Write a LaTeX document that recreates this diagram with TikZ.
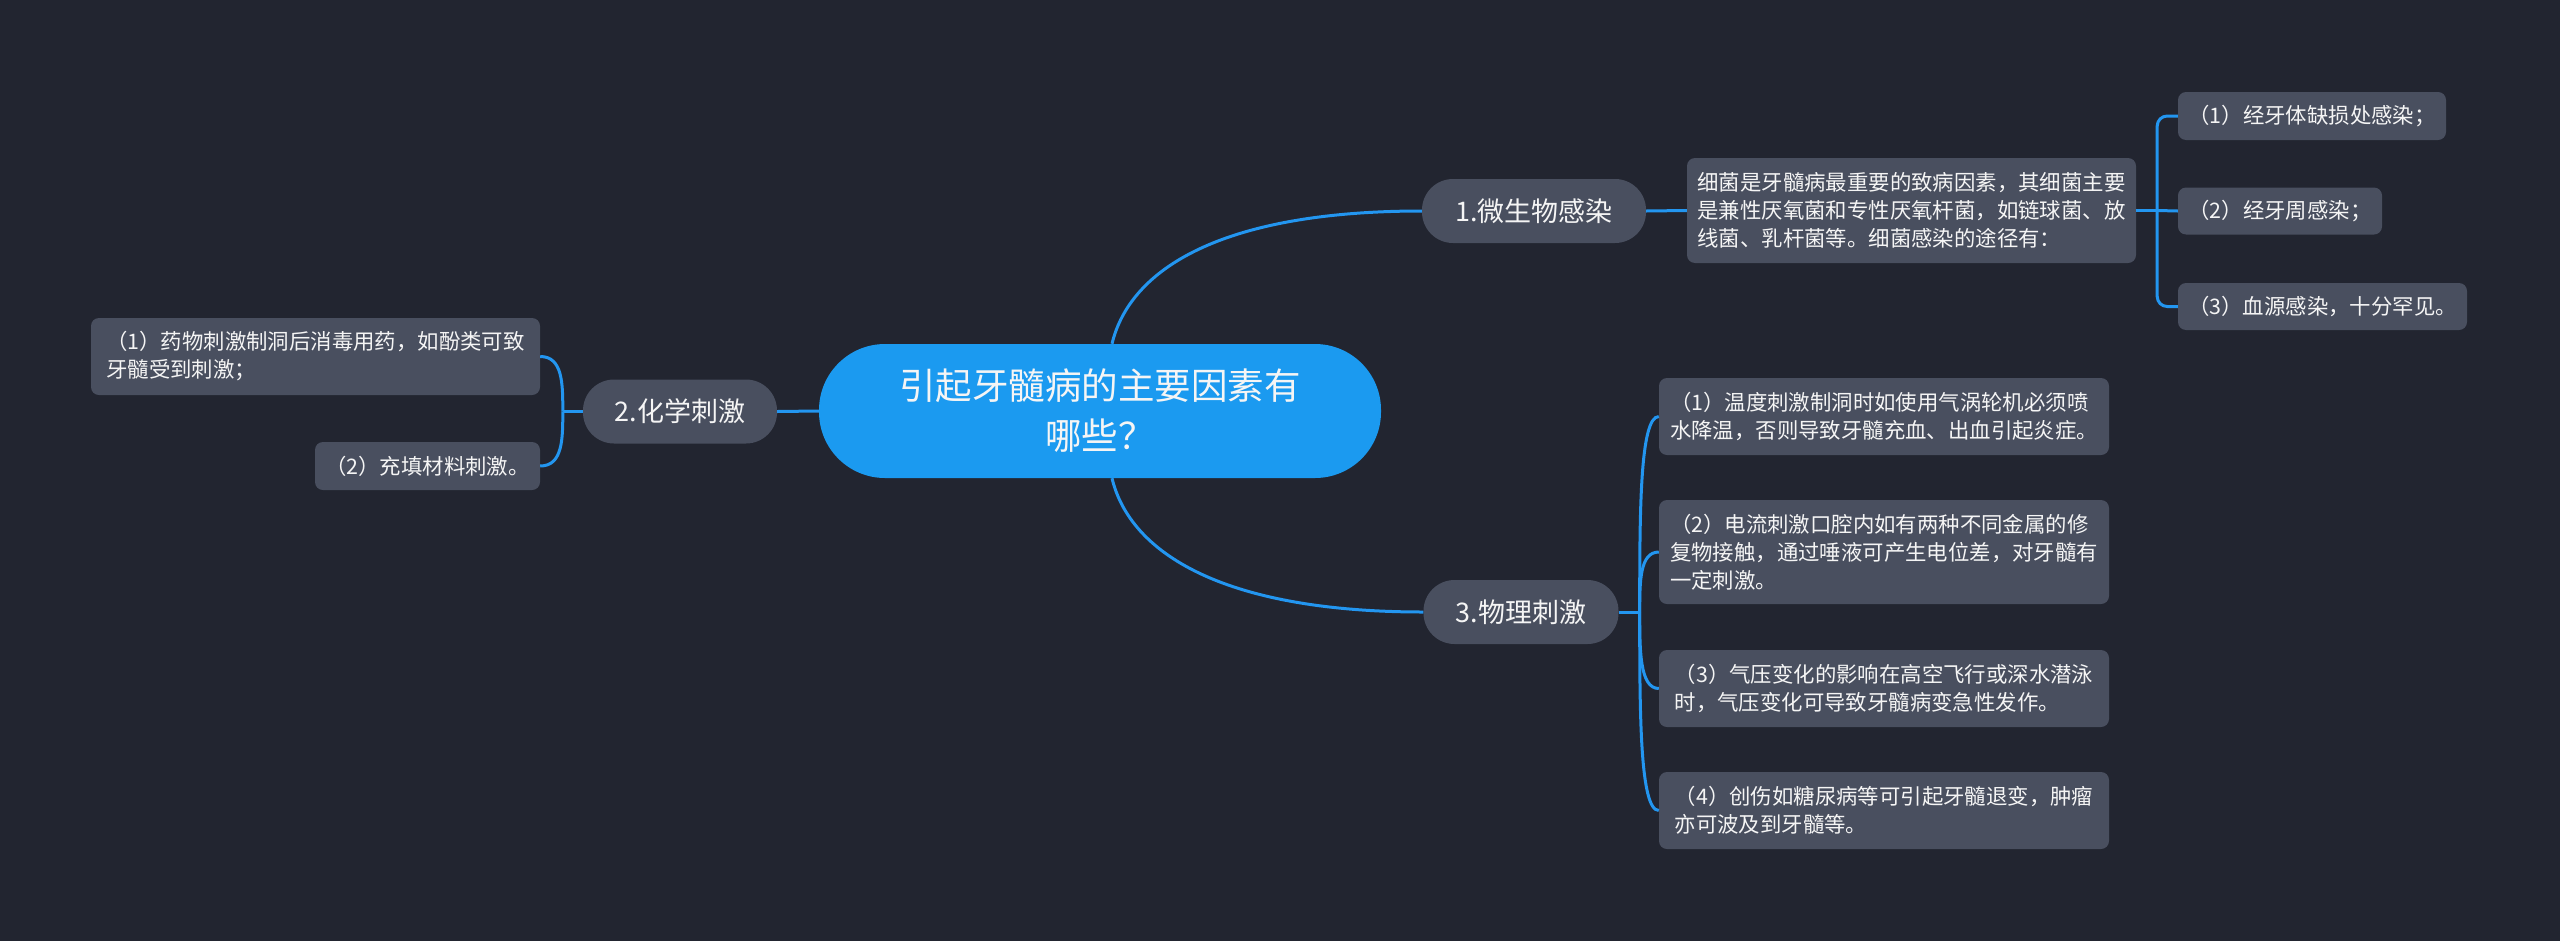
\documentclass[tikz,border=0pt]{standalone}
\usepackage{fontspec}
\newfontfamily\cjk{Noto Sans CJK SC}
\usetikzlibrary{calc}
\definecolor{bg}{RGB}{34,37,48}
\definecolor{nodegray}{RGB}{73,79,95}
\definecolor{rootblue}{RGB}{27,154,240}
\definecolor{linkblue}{RGB}{35,150,240}
\definecolor{txt}{RGB}{245,245,245}
\begin{document}
\begin{tikzpicture}[x=1pt,y=-1pt,
  rootnode/.style={rectangle, rounded corners=66pt, fill=rootblue, text=txt,
    font=\cjk\fontsize{36.5}{50}\selectfont, align=center,
    minimum width=562pt, minimum height=134pt, inner sep=0pt},
  midnode/.style={rectangle, rounded corners=31pt, fill=nodegray, text=txt,
    font=\cjk\fontsize{27}{32}\selectfont, minimum height=64pt, inner sep=0pt},
  leafnode/.style={rectangle, rounded corners=8pt, fill=nodegray, text=txt,
    font=\cjk\fontsize{21.4}{28}\selectfont, align=left, inner sep=0pt},
  link/.style={draw=linkblue, line width=3pt}]
\useasboundingbox (0,0) rectangle (2560,940);
\fill[bg] (-10,-10) rectangle (2570,950);

% nodes
\node[rootnode] (root) at (1100,411) {引起牙髓病的主要因素有\\哪些？};
\node[midnode, minimum width=224pt] (n1) at (1534,211) {1.微生物感染};
\node[midnode, minimum width=194pt] (n2) at (680,411.5) {2.化学刺激};
\node[midnode, minimum width=195pt] (n3) at (1521,612) {3.物理刺激};

\node[leafnode, minimum width=449pt, minimum height=105pt] (l1) at (1911.5,210.5)
  {细菌是牙髓病最重要的致病因素，其细菌主要\\是兼性厌氧菌和专性厌氧杆菌，如链球菌、放\\线菌、乳杆菌等。细菌感染的途径有：};
\node[leafnode, minimum width=268pt, minimum height=48pt] (s1) at (2312,116) {（1）经牙体缺损处感染；};
\node[leafnode, minimum width=204pt, minimum height=47pt] (s2) at (2280,211) {（2）经牙周感染；};
\node[leafnode, minimum width=289pt, minimum height=47pt] (s3) at (2322.5,306.5) {（3）血源感染，十分罕见。};

\node[leafnode, minimum width=449pt, minimum height=77pt] (c1) at (315.5,356.5)
  {（1）药物刺激制洞后消毒用药，如酚类可致\\牙髓受到刺激；};
\node[leafnode, minimum width=225pt, minimum height=48pt] (c2) at (427.5,466) {（2）充填材料刺激。};

\node[leafnode, minimum width=450pt, minimum height=77pt] (p1) at (1884,416.5)
  {（1）温度刺激制洞时如使用气涡轮机必须喷\\水降温，否则导致牙髓充血、出血引起炎症。};
\node[leafnode, minimum width=450pt, minimum height=104pt] (p2) at (1884,552)
  {（2）电流刺激口腔内如有两种不同金属的修\\复物接触，通过唾液可产生电位差，对牙髓有\\一定刺激。};
\node[leafnode, minimum width=450pt, minimum height=77pt] (p3) at (1884,688.5)
  {（3）气压变化的影响在高空飞行或深水潜泳\\时，气压变化可导致牙髓病变急性发作。};
\node[leafnode, minimum width=450pt, minimum height=77pt] (p4) at (1884,810.5)
  {（4）创伤如糖尿病等可引起牙髓退变，肿瘤\\亦可波及到牙髓等。};

% root links
\draw[link] ([xshift=12pt]root.north) .. controls +(18,-75) and +(-200,0) .. (n1.west);
\draw[link] ([xshift=12pt]root.south) .. controls +(18,75) and +(-200,0) .. (n3.west);
\draw[link] (root.west) -- (n2.east);

% branch 1
\draw[link] (n1.east) -- (l1.west);
\coordinate (h1) at ($(l1.east)+(21,0)$);
\draw[link] (l1.east) -- (h1);
\draw[link, rounded corners=10pt] (h1) |- (s1.west);
\draw[link] (h1) -- (s2.west);
\draw[link, rounded corners=10pt] (h1) |- (s3.west);

% branch 2
\coordinate (h2) at ($(n2.west)+(-20,0)$);
\draw[link] (n2.west) -- (h2);
\foreach \t in {c1,c2}{
  \draw[link] (h2) .. controls ($(h2)!0.5!(h2|-\t.east)$) and (h2|-\t.east) .. (\t.east);
}

% branch 3
\coordinate (h3) at ($(n3.east)+(21,0)$);
\draw[link] (n3.east) -- (h3);
\foreach \t in {p1,p2,p3,p4}{
  \draw[link] (h3) .. controls ($(h3)!0.5!(h3|-\t.west)$) and (h3|-\t.west) .. (\t.west);
}
\end{tikzpicture}
\end{document}
